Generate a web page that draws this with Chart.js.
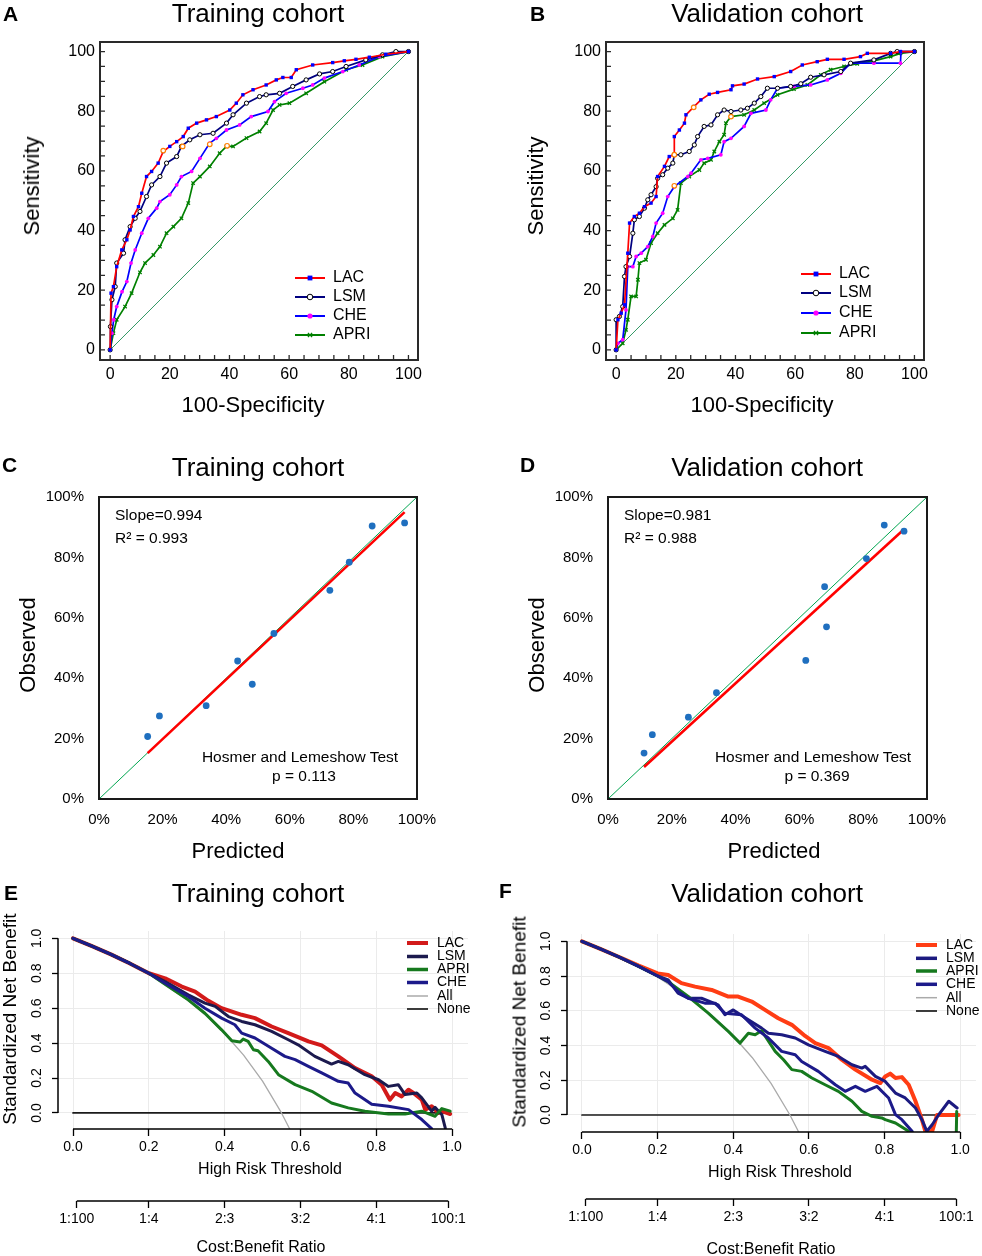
<!DOCTYPE html>
<html><head><meta charset="utf-8">
<script src="https://cdn.jsdelivr.net/npm/chart.js@4.4.1/dist/chart.umd.min.js"></script>
<style>
html,body{margin:0;padding:0;background:#fff;}
body{position:relative;width:982px;height:1256px;overflow:hidden;}
canvas{position:absolute;left:0;top:0;}
</style></head><body>
<script>
// ---------------- DATA ----------------
// ROC, training cohort (panel A)
const A_LAC_X = [0,0.3,1.1,2.2,3.9,5.6,6.7,7.8,9.5,10.6,12.2,13.9,16.1,17.8,20.0,22.3,24.5,26.2,29.0,32.3,35.6,40.1,42.3,44.5,47.9,52.3,55.7,57.9,60.7,62.4,67.9,74.6,78.5,82.4,86.9,92.4,100];
const A_LAC_Y = [0,19,21.2,27.9,33.5,36.9,40.2,44.7,48.0,52.5,58.1,59.8,62.6,66.5,68.2,69.8,71.5,74.3,76.0,77.1,78.2,80.4,82.7,85.5,87.2,88.8,90.5,91.3,91.3,93.9,95.5,96.3,96.9,97.4,98.1,99.1,100];
const A_LSM_X = [0,0.1,0.6,1.7,2.2,4.5,5.0,6.7,8.4,10.0,12.2,13.9,16.7,18.9,22.3,23.9,26.7,30.1,34.5,39.0,41.2,45.7,50.1,52.3,56.8,61.2,65.7,70.2,74.6,79.1,85.7,91.3,95.8,100];
const A_LSM_Y = [0,7.8,16.8,21.2,29.1,32.4,36.9,41.3,44.1,46.4,51.4,55.3,58.1,62.6,64.8,68.2,70.4,72.1,72.6,76.0,78.8,82.7,84.9,85.5,86.0,88.3,90.5,92.5,93.3,95.0,97.2,98.9,100,100];
const A_CHE_X = [0,0.6,1.2,2.2,4.0,5.6,7.0,8.4,10.6,12.8,15.6,16.7,20.0,22.3,23.9,27.3,30.1,33.4,35.6,39.0,43.4,47.3,52.9,55.1,59.0,64.6,67.9,71.8,78.0,83.5,90.2,100];
const A_CHE_Y = [0,5.6,10.1,14.5,19.5,22.9,29.1,33.5,39.1,44.1,47.5,49.7,52.0,55.3,58.1,59.8,64.2,69.3,70.9,73.7,75.4,78.2,79.9,83.2,86.0,87.7,88.8,91.1,93.3,95.5,98.3,100];
const A_APRI_X = [0,1.1,2.2,5.0,7.2,10.0,11.7,14.5,16.7,18.9,21.2,23.9,26.2,27.8,30.1,33.4,36.7,39.0,41.2,45.7,50.1,52.3,54.6,56.8,60.1,65.7,71.8,79.1,84.6,91.3,100];
const A_APRI_Y = [0,5.6,10.1,14.5,19.0,26.0,29.1,31.8,34.6,39.1,41.3,44.1,49.2,55.9,58.1,61.5,65.9,68.2,68.2,71.0,73.2,76.0,80.4,82.1,82.7,86.0,89.9,93.9,95.5,98.3,100];
const A_CUT_X = [17.8,24.3,33.4,39.2];
const A_CUT_Y = [66.8,68.2,68.9,68.4];

// ROC, validation cohort (panel B)
const B_LAC_X = [0,0.6,1.7,2.8,3.9,4.5,6.1,7.8,9.5,11.7,13.4,13.9,16.2,17.8,19.5,19.5,21.2,22.9,23.4,26.2,28.4,31.2,34.0,38.5,39.0,42.9,47.4,53.0,58.5,62.4,67.4,70.8,76.4,81.9,84.2,92.0,95.3,100];
const B_LAC_Y = [0,10.1,12.3,15.1,32.4,42.5,44.7,45.8,48.0,49.2,51.4,58.1,61.5,64.8,65.4,71.5,73.7,76.0,78.8,81.6,83.8,85.7,86.3,87.2,88.5,89.1,90.8,91.6,93.3,95.5,96.6,97.4,97.4,98.3,99.4,99.4,100,100];
const B_LSM_X = [0,0,1.1,2.2,2.8,3.3,4.5,5.6,6.1,7.8,9.5,10.6,11.7,13.4,13.9,15.6,17.3,19.0,19.5,21.7,24.5,26.2,27.3,29.5,31.8,34.0,36.2,38.5,41.8,44.0,46.3,48.5,50.7,54.1,58.5,61.9,65.2,69.7,75.3,78.6,86.4,92.0,94.2,100];
const B_LSM_Y = [0,10.1,11.2,14.5,24.6,27.9,31.3,39.1,43.6,44.7,47.5,50.3,52.0,54.7,57.5,58.7,60.9,62.6,65.4,65.4,66.5,68.7,71.5,74.9,75.4,78.8,80.4,79.9,80.4,81.0,82.7,84.9,87.7,87.7,88.3,89.2,91.4,92.2,93.3,96.1,97.2,99.4,100,100];
const B_CHE_X = [0,0.6,2.2,3.3,3.9,5.6,6.7,8.4,10.6,12.3,13.4,15.6,17.3,19.5,24.0,25.1,28.4,30.7,35.1,36.2,38.5,42.9,45.2,50.2,51.8,54.1,59.6,65.2,70.8,75.3,78.6,86.4,95.3,95.5,100];
const B_CHE_Y = [0,2.2,3.4,13.4,27.9,27.9,31.3,32.4,34.6,38.0,42.5,45.8,51.4,54.7,58.1,59.2,63.7,64.2,65.4,69.8,70.9,74.9,79.3,80.4,83.8,87.7,88.3,88.8,90.5,92.7,96.1,96.1,96.1,100,100];
const B_APRI_X = [0,2.2,3.3,3.9,5.0,6.7,7.3,7.8,10.0,11.7,13.9,16.2,19.0,20.6,21.7,24.5,27.9,29.5,31.8,32.9,34.6,36.2,36.8,38.5,42.9,46.3,49.6,54.1,59.6,64.1,68.6,71.9,76.4,80.8,86.4,92.0,95.3,100];
const B_APRI_Y = [0,2.2,6.7,10.1,17.9,17.9,23.5,29.1,30.2,35.8,39.1,41.9,44.1,46.9,55.9,58.1,60.3,62.6,63.7,66.5,69.8,72.1,76.0,78.2,78.8,80.4,82.7,85.5,87.4,88.8,92.2,93.9,95.0,95.9,96.9,98.3,99.4,100];
const B_CUT_X = [26.0,19.5,19.5,38.5];
const B_CUT_Y = [81.3,65.4,55.0,78.2];

const ROC_DIAG = [0,100];
const ROC_TICKS = [0,20,40,60,80,100];
const ROC_MINOR = [0,5,10,15,20,25,30,35,40,45,50,55,60,65,70,75,80,85,90,95,100];

// Calibration (panels C, D)
const C_PRED = [15.3,19.0,33.7,43.6,48.2,55.0,72.6,78.7,85.9,96.1];
const C_OBS  = [20.7,27.5,30.9,45.7,38.0,54.8,69.1,78.4,90.4,91.4];
const C_FIT_X = [15.3,96.1];
const C_FIT_Y = [15.2,95.0];
const D_PRED = [11.3,13.9,25.2,34.0,62.0,67.9,68.5,81.0,86.6,92.8];
const D_OBS  = [15.2,21.3,27.1,35.2,45.9,70.3,57.0,79.6,90.7,88.7];
const D_FIT_X = [11.3,92.8];
const D_FIT_Y = [10.6,89.3];
const CAL_DIAG = [0,100];
const PCT_TICKS = [0,20,40,60,80,100];

// Decision curves, training cohort (panel E)
const E_LAC_T  = [0,.05,.1,.15,.2,.243,.287,.322,.357,.392,.445,.48,.524,.568,.621,.656,.70,.744,.788,.814,.836,.85,.867,.885,.898,.92,.929,.946,.964,.973,.995];
const E_LAC_NB = [1,.955,.908,.856,.80,.771,.724,.695,.642,.60,.562,.543,.495,.457,.41,.387,.324,.257,.21,.162,.076,.114,.095,.133,.114,.076,.019,.038,0,.01,-.006];
const E_LSM_T  = [0,.05,.1,.15,.2,.243,.304,.348,.375,.41,.445,.48,.524,.568,.594,.638,.682,.70,.726,.77,.806,.832,.858,.876,.907,.92,.946,.955,.973,.982];
const E_LSM_NB = [1,.955,.908,.856,.80,.752,.676,.629,.61,.552,.524,.505,.467,.419,.39,.324,.28,.295,.276,.219,.19,.152,.162,.105,.114,.086,.01,.032,-.01,-.086];
const E_APRI_T  = [0,.05,.1,.15,.2,.243,.304,.348,.392,.419,.441,.449,.462,.476,.488,.515,.542,.586,.63,.682,.726,.77,.832,.876,.92,.955,.973,.995];
const E_APRI_NB = [1,.955,.908,.856,.80,.737,.648,.571,.476,.413,.406,.423,.41,.362,.356,.295,.219,.162,.124,.057,.029,.01,-.006,-.006,.01,-.019,.025,.01];
const E_CHE_T  = [0,.05,.1,.15,.2,.243,.304,.348,.392,.427,.445,.48,.524,.559,.586,.621,.656,.70,.726,.744,.788,.832,.885,.92,.946];
const E_CHE_NB = [1,.955,.908,.856,.80,.743,.667,.60,.543,.505,.457,.429,.371,.324,.305,.267,.229,.181,.171,.114,.05,.038,.019,-.038,-.09];
const E_ALL_T  = [0,.1,.2,.3,.35,.4,.45,.5,.55,.57,.58];
const E_ALL_NB = [1,.909,.795,.649,.56,.455,.331,.182,0,-.085,-.13];
const E_NONE_T  = [0,.995];
const E_NONE_NB = [0,0];

// Decision curves, validation cohort (panel F)
const F_LAC_T  = [0,.05,.1,.15,.2,.228,.263,.299,.343,.387,.413,.449,.484,.519,.555,.59,.617,.652,.687,.723,.767,.789,.802,.815,.829,.846,.864,.882,.899,.908,.926,.939,.996];
const F_LAC_NB = [1,.955,.908,.86,.815,.806,.759,.739,.72,.682,.682,.653,.605,.557,.519,.455,.414,.385,.318,.261,.203,.184,.222,.238,.213,.218,.174,.079,-.027,-.094,-.094,0,0];
const F_LSM_T  = [0,.05,.1,.15,.2,.228,.254,.281,.316,.36,.378,.40,.44,.475,.493,.528,.564,.599,.643,.678,.714,.74,.749,.776,.802,.829,.855,.882,.899,.912,.926,.943,.97,.992];
const F_LSM_NB = [1,.955,.908,.856,.80,.778,.701,.672,.672,.634,.577,.605,.548,.50,.471,.462,.443,.404,.366,.337,.289,.27,.28,.222,.193,.126,.098,.04,-.027,-.094,-.056,0,.079,.04];
const F_APRI_T  = [0,.05,.1,.15,.2,.228,.281,.334,.387,.418,.44,.458,.475,.511,.533,.555,.581,.608,.643,.678,.714,.74,.767,.793,.802,.829,.864,.989,.991];
const F_APRI_NB = [1,.955,.908,.856,.80,.768,.682,.586,.481,.414,.471,.462,.485,.366,.318,.261,.251,.213,.174,.136,.079,.021,-.008,-.017,-.027,-.046,-.094,-.2,.02];
const F_CHE_T  = [0,.05,.1,.15,.2,.228,.254,.281,.325,.352,.378,.422,.458,.493,.528,.564,.581,.625,.67,.696,.723,.749,.78,.811,.829,.846,.873];
const F_CHE_NB = [1,.955,.908,.856,.80,.768,.711,.672,.644,.644,.586,.577,.50,.443,.366,.347,.308,.251,.174,.136,.165,.136,.165,.098,.002,-.027,-.094];
const F_ALL_T  = [0,.1,.2,.3,.35,.4,.45,.5,.55,.57,.58];
const F_ALL_NB = [1,.909,.795,.649,.56,.455,.331,.182,0,-.085,-.13];
const F_NONE_T  = [0,.995];
const F_NONE_NB = [0,0];

const DC_TICKS = [0,0.2,0.4,0.6,0.8,1.0];
const COST_T = [0.01,0.2,0.4,0.6,0.8,0.99];
const COST_LABELS = ['1:100','1:4','2:3','3:2','4:1','100:1'];

// ---------------- RENDERING ----------------
const FONT = "'Liberation Sans', Arial, Helvetica, sans-serif";
Chart.defaults.font.family = FONT;
Chart.defaults.color = '#000';
const W = 982, H = 1256;

function pts(xs, ys) { return xs.map((x, i) => ({x: x, y: ys[i]})); }
function newCtx() {
  const c = document.createElement('canvas');
  c.width = W; c.height = H; c.style.width = W + 'px'; c.style.height = H + 'px';
  document.body.appendChild(c);
  return c.getContext('2d');
}
function pad(L, T, R, B, yW, xH) {
  return {left: L - yW, top: T, right: W - R, bottom: H - B - xH};
}
function drawMarker(ctx, m, x, y) {
  ctx.save();
  ctx.fillStyle = m.bg; ctx.strokeStyle = m.border; ctx.lineWidth = m.bw;
  ctx.beginPath();
  if (m.style === 'rect') {
    const s = m.r * Math.SQRT1_2;
    ctx.rect(x - s, y - s, 2 * s, 2 * s); ctx.fill(); if (m.bw) ctx.stroke();
  } else if (m.style === 'crossRot') {
    const s = m.r * Math.SQRT1_2;
    ctx.moveTo(x - s, y - s); ctx.lineTo(x + s, y + s);
    ctx.moveTo(x + s, y - s); ctx.lineTo(x - s, y + s); ctx.stroke();
  } else {
    ctx.arc(x, y, m.r, 0, Math.PI * 2); ctx.fill(); if (m.bw) ctx.stroke();
  }
  ctx.restore();
}

const framePlugin = {
  id: 'frame',
  afterDatasetsDraw(chart, args, o) {
    const ctx = chart.ctx, a = chart.chartArea, sx = chart.scales.x, sy = chart.scales.y;
    ctx.save();
    ctx.strokeStyle = o.color; ctx.lineWidth = o.width;
    ctx.strokeRect(a.left, a.top, a.right - a.left, a.bottom - a.top);
    if (o.ticks) {
      ctx.lineWidth = o.tickWidth;
      ctx.beginPath();
      o.ticks.forEach(v => {
        const px = sx.getPixelForValue(v);
        ctx.moveTo(px, a.bottom); ctx.lineTo(px, a.bottom - o.tickLen);
        const py = sy.getPixelForValue(v);
        ctx.moveTo(a.left, py); ctx.lineTo(a.left + o.tickLen, py);
      });
      ctx.stroke();
    }
    ctx.restore();
  }
};

const rAxesPlugin = {
  id: 'raxes',
  afterDraw(chart, args, o) {
    const ctx = chart.ctx, a = chart.chartArea, x = chart.scales.x, x2 = chart.scales.x2, y = chart.scales.y;
    ctx.save();
    ctx.strokeStyle = '#000'; ctx.lineWidth = o.width;
    ctx.beginPath();
    ctx.moveTo(a.left, y.getPixelForValue(DC_TICKS[0])); ctx.lineTo(a.left, y.getPixelForValue(DC_TICKS[DC_TICKS.length - 1]));
    ctx.moveTo(x.getPixelForValue(DC_TICKS[0]), a.bottom); ctx.lineTo(x.getPixelForValue(DC_TICKS[DC_TICKS.length - 1]), a.bottom);
    ctx.moveTo(x2.getPixelForValue(COST_T[0]), x2.top); ctx.lineTo(x2.getPixelForValue(COST_T[COST_T.length - 1]), x2.top);
    ctx.stroke();
    ctx.restore();
  }
};

const keysPlugin = {
  id: 'keys',
  afterDraw(chart, args, o) {
    const ctx = chart.ctx;
    ctx.save();
    ctx.font = o.size + 'px ' + FONT;
    ctx.textBaseline = 'middle'; ctx.textAlign = 'left';
    o.items.forEach((it, i) => {
      const y = o.ys[i];
      ctx.strokeStyle = it.color; ctx.lineWidth = it.width; ctx.lineCap = 'butt';
      ctx.beginPath(); ctx.moveTo(o.x0, y); ctx.lineTo(o.x1, y); ctx.stroke();
      if (it.marker) drawMarker(ctx, it.marker, (o.x0 + o.x1) / 2, y);
      ctx.fillStyle = '#000';
      ctx.fillText(it.label, o.tx, y + (o.dy || 0));
    });
    ctx.restore();
  }
};

// ----- ROC panels -----
const MK = {
  LAC:  {style: 'rect', r: 2.4, bg: '#0000ff', border: '#0000ff', bw: 0},
  LSM:  {style: 'circle', r: 2.1, bg: '#ffffff', border: '#000000', bw: 1},
  CHE:  {style: 'circle', r: 1.9, bg: '#ff00ff', border: '#ff00ff', bw: 0},
  APRI: {style: 'crossRot', r: 2.4, bg: '#008000', border: '#008000', bw: 1.3},
  CUT:  {style: 'circle', r: 2.3, bg: '#ffffff', border: '#ff7f00', bw: 1.2}
};
const LINE = {LAC: '#ff0000', LSM: '#000080', CHE: '#0000ff', APRI: '#008000'};
const LMK = {
  LAC:  Object.assign({}, MK.LAC, {r: 3.4}),
  LSM:  Object.assign({}, MK.LSM, {r: 2.8}),
  CHE:  Object.assign({}, MK.CHE, {r: 2.6}),
  APRI: Object.assign({}, MK.APRI, {r: 3.0})
};

function rocSet(label, xs, ys, line, mk) {
  return {
    label: label, data: pts(xs, ys), showLine: !!line,
    borderColor: line || mk.border, borderWidth: line ? 1.7 : 0,
    backgroundColor: mk.bg,
    pointStyle: mk.style, pointRadius: mk.r,
    pointBackgroundColor: mk.bg, pointBorderColor: mk.border, pointBorderWidth: mk.bw,
    tension: 0
  };
}
function rocScale(yAxis) {
  return {
    type: 'linear', min: -3.4, max: 103.2,
    afterBuildTicks: s => { s.ticks = ROC_TICKS.map(v => ({value: v})); },
    ticks: {autoSkip: false, maxRotation: 0, font: {size: 16}, color: '#000', padding: 5, callback: v => String(v)},
    grid: {display: false, drawTicks: false},
    border: {display: false},
    afterFit: s => { if (yAxis) s.width = 60; else s.height = 40; }
  };
}
function rocChart(L, T, R, B, d, legendPos) {
  const keyItems = ['LAC', 'LSM', 'CHE', 'APRI'].map(k => ({label: k, color: LINE[k], width: 2, marker: LMK[k]}));
  new Chart(newCtx(), {
    type: 'scatter',
    data: {datasets: [
      rocSet('cut', d.cutX, d.cutY, null, MK.CUT),
      rocSet('LAC', d.lacX, d.lacY, LINE.LAC, MK.LAC),
      rocSet('LSM', d.lsmX, d.lsmY, LINE.LSM, MK.LSM),
      rocSet('CHE', d.cheX, d.cheY, LINE.CHE, MK.CHE),
      rocSet('APRI', d.apriX, d.apriY, LINE.APRI, MK.APRI),
      {label: 'ref', data: pts(ROC_DIAG, ROC_DIAG), showLine: true, borderColor: '#339966', borderWidth: 1, pointRadius: 0}
    ]},
    options: {
      responsive: false, animation: false, events: [],
      layout: {padding: pad(L, T, R, B, 60, 40)},
      scales: {x: rocScale(false), y: rocScale(true)},
      plugins: {
        legend: {display: false}, tooltip: {enabled: false},
        frame: {color: '#2a2a2a', width: 2, ticks: ROC_MINOR, tickLen: 5, tickWidth: 1.3},
        keys: Object.assign({size: 16, items: keyItems}, legendPos)
      }
    },
    plugins: [framePlugin, keysPlugin]
  });
}
rocChart(100, 42, 418, 360, {
  lacX: A_LAC_X, lacY: A_LAC_Y, lsmX: A_LSM_X, lsmY: A_LSM_Y, cheX: A_CHE_X, cheY: A_CHE_Y,
  apriX: A_APRI_X, apriY: A_APRI_Y, cutX: A_CUT_X, cutY: A_CUT_Y
}, {x0: 295, x1: 325, tx: 333, ys: [278, 297, 316, 335]});
rocChart(606, 42, 924, 360, {
  lacX: B_LAC_X, lacY: B_LAC_Y, lsmX: B_LSM_X, lsmY: B_LSM_Y, cheX: B_CHE_X, cheY: B_CHE_Y,
  apriX: B_APRI_X, apriY: B_APRI_Y, cutX: B_CUT_X, cutY: B_CUT_Y
}, {x0: 801, x1: 831, tx: 839, ys: [274, 293, 313, 333]});

// ----- Calibration panels -----
function calScale(yAxis) {
  return {
    type: 'linear', min: 0, max: 100,
    afterBuildTicks: s => { s.ticks = PCT_TICKS.map(v => ({value: v})); },
    ticks: {autoSkip: false, maxRotation: 0, font: {size: 15}, color: '#000', padding: yAxis ? 15 : 12, callback: v => v + '%'},
    grid: {display: false, drawTicks: false},
    border: {display: false},
    afterFit: s => { if (yAxis) s.width = 70; else s.height = 40; }
  };
}
function calChart(L, T, R, B, px, py, fx, fy) {
  new Chart(newCtx(), {
    type: 'scatter',
    data: {datasets: [
      {label: 'obs', data: pts(px, py), pointRadius: 3.4, pointBackgroundColor: '#1f6fbf', pointBorderColor: '#1f6fbf', pointBorderWidth: 0, showLine: false},
      {label: 'fit', data: pts(fx, fy), showLine: true, borderColor: '#ff0000', borderWidth: 2.6, pointRadius: 0},
      {label: 'ideal', data: pts(CAL_DIAG, CAL_DIAG), showLine: true, borderColor: '#00a650', borderWidth: 1, pointRadius: 0}
    ]},
    options: {
      responsive: false, animation: false, events: [],
      layout: {padding: pad(L, T, R, B, 70, 40)},
      scales: {x: calScale(false), y: calScale(true)},
      plugins: {legend: {display: false}, tooltip: {enabled: false}, frame: {color: '#1a1a1a', width: 2}},
    },
    plugins: [framePlugin]
  });
}
calChart(99, 497, 417, 799, C_PRED, C_OBS, C_FIT_X, C_FIT_Y);
calChart(608, 497, 927, 799, D_PRED, D_OBS, D_FIT_X, D_FIT_Y);

// ----- Decision curve panels -----
function dcSet(label, ts, nb, color, width) {
  return {label: label, data: pts(ts, nb), showLine: true, borderColor: color, borderWidth: width,
    pointRadius: 0, tension: 0, borderJoinStyle: 'round', borderCapStyle: 'round', clip: 0};
}
function dcChart(L, T, R, B, xH, yMin, d, col, legendPos) {
  const xDef = {
    type: 'linear', min: -0.0396, max: 1.042, weight: 0,
    afterBuildTicks: s => { s.ticks = DC_TICKS.map(v => ({value: v})); },
    ticks: {autoSkip: false, maxRotation: 0, font: {size: 14}, color: '#000', padding: 3, callback: v => v.toFixed(1)},
    grid: {color: '#ebebeb', lineWidth: 1, tickColor: '#000', tickWidth: 1.3, tickLength: 7},
    border: {display: false},
    afterFit: s => { s.height = xH; }
  };
  const x2Def = {
    type: 'linear', position: 'bottom', min: -0.0396, max: 1.042, weight: 1,
    afterBuildTicks: s => { s.ticks = COST_T.map(v => ({value: v})); },
    ticks: {autoSkip: false, maxRotation: 0, font: {size: 14}, color: '#000', padding: 3, callback: (v, i) => COST_LABELS[i]},
    grid: {drawOnChartArea: false, tickColor: '#000', tickWidth: 1.3, tickLength: 7},
    border: {display: false},
    afterFit: s => { s.height = 40; }
  };
  const yDef = {
    type: 'linear', min: yMin, max: 1.042,
    afterBuildTicks: s => { s.ticks = DC_TICKS.map(v => ({value: v})); },
    ticks: {autoSkip: false, minRotation: 90, maxRotation: 90, crossAlign: 'center', font: {size: 14}, color: '#000', padding: 5.5, callback: v => v.toFixed(1)},
    grid: {color: '#ebebeb', lineWidth: 1, tickColor: '#000', tickWidth: 1.3, tickLength: 6},
    border: {display: false},
    afterFit: s => { s.width = 58; }
  };
  const items = [
    {label: 'LAC', color: col.LAC, width: 4},
    {label: 'LSM', color: col.LSM, width: 3.5},
    {label: 'APRI', color: col.APRI, width: 3.5},
    {label: 'CHE', color: col.CHE, width: 3.5},
    {label: 'All', color: col.All, width: 1.5},
    {label: 'None', color: col.None, width: 1.7}
  ];
  new Chart(newCtx(), {
    type: 'scatter',
    data: {datasets: [
      dcSet('CHE', d.cheT, d.cheNB, col.CHE, 3),
      dcSet('APRI', d.apriT, d.apriNB, col.APRI, 3),
      dcSet('LSM', d.lsmT, d.lsmNB, col.LSM, 3),
      dcSet('LAC', d.lacT, d.lacNB, col.LAC, 4),
      dcSet('All', d.allT, d.allNB, col.All, 1.3),
      dcSet('None', d.noneT, d.noneNB, col.None, 1.7)
    ]},
    options: {
      responsive: false, animation: false, events: [],
      layout: {padding: pad(L, T, R, B, 58, xH + 40)},
      scales: {x: xDef, x2: x2Def, y: yDef},
      plugins: {
        legend: {display: false}, tooltip: {enabled: false},
        raxes: {width: 1.5},
        keys: Object.assign({size: 14, items: items}, legendPos)
      }
    },
    plugins: [rAxesPlugin, keysPlugin]
  });
}
dcChart(58, 931, 468, 1129, 72, -0.092, {
  lacT: E_LAC_T, lacNB: E_LAC_NB, lsmT: E_LSM_T, lsmNB: E_LSM_NB, apriT: E_APRI_T, apriNB: E_APRI_NB,
  cheT: E_CHE_T, cheNB: E_CHE_NB, allT: E_ALL_T, allNB: E_ALL_NB, noneT: E_NONE_T, noneNB: E_NONE_NB
}, {LAC: '#d21a1a', LSM: '#1c1a4e', APRI: '#16791e', CHE: '#1c1a8a', All: '#aaaaaa', None: '#1a1a1a'},
{x0: 407, x1: 428, tx: 437, ys: [943, 956.5, 969.5, 982.5, 996, 1009]});
dcChart(567, 934, 976, 1132, 67, -0.098, {
  lacT: F_LAC_T, lacNB: F_LAC_NB, lsmT: F_LSM_T, lsmNB: F_LSM_NB, apriT: F_APRI_T, apriNB: F_APRI_NB,
  cheT: F_CHE_T, cheNB: F_CHE_NB, allT: F_ALL_T, allNB: F_ALL_NB, noneT: F_NONE_T, noneNB: F_NONE_NB
}, {LAC: '#ff3d14', LSM: '#1c1a80', APRI: '#16791e', CHE: '#1c1a8a', All: '#aaaaaa', None: '#1a1a1a'},
{x0: 916, x1: 937, tx: 946, ys: [945, 958.3, 971, 984.3, 997.7, 1011]});

// ----- Text (titles, axis titles, annotations) -----
function txt(t, x, y, size, o) {
  o = o || {};
  const d = document.createElement('div');
  d.textContent = t;
  d.style.cssText = 'position:absolute;left:' + x + 'px;top:' + y + 'px;font:' + (o.bold ? 'bold ' : '') + size + 'px ' + FONT +
    ';line-height:1;white-space:nowrap;color:#000;transform:' + (o.left ? 'translate(0,-50%)' : 'translate(-50%,-50%)') + (o.rot ? ' rotate(-90deg)' : '') + ';';
  document.body.appendChild(d);
}
// A
txt('A', 3, 13, 21, {bold: 1, left: 1});
txt('Training cohort', 258, 13, 26);
txt('Sensitivity', 32, 186, 22, {rot: 1});
txt('100-Specificity', 253, 405, 22);
// B
txt('B', 530, 13, 21, {bold: 1, left: 1});
txt('Validation cohort', 767, 13, 26);
txt('Sensitivity', 536, 186, 22, {rot: 1});
txt('100-Specificity', 762, 405, 22);
// C
txt('C', 2, 464, 21, {bold: 1, left: 1});
txt('Training cohort', 258, 467, 26);
txt('Observed', 28, 645, 22, {rot: 1});
txt('Predicted', 238, 851, 22);
txt('Slope=0.994', 115, 515, 15.5, {left: 1});
txt('R\u00b2 = 0.993', 115, 538, 15.5, {left: 1});
txt('Hosmer and Lemeshow Test', 300, 757, 15.5);
txt('p = 0.113', 304, 776, 15.5);
// D
txt('D', 520, 464, 21, {bold: 1, left: 1});
txt('Validation cohort', 767, 467, 26);
txt('Observed', 537, 645, 22, {rot: 1});
txt('Predicted', 774, 851, 22);
txt('Slope=0.981', 624, 515, 15.5, {left: 1});
txt('R\u00b2 = 0.988', 624, 538, 15.5, {left: 1});
txt('Hosmer and Lemeshow Test', 813, 757, 15.5);
txt('p = 0.369', 817, 776, 15.5);
// E
txt('E', 4, 892, 21, {bold: 1, left: 1});
txt('Training cohort', 258, 893, 26);
txt('Standardized Net Benefit', 9, 1019, 19, {rot: 1});
txt('High Risk Threshold', 270, 1169, 16);
txt('Cost:Benefit Ratio', 261, 1247, 16);
// F
txt('F', 499, 890, 21, {bold: 1, left: 1});
txt('Validation cohort', 767, 893, 26);
txt('Standardized Net Benefit', 519, 1022, 19, {rot: 1});
txt('High Risk Threshold', 780, 1172, 16);
txt('Cost:Benefit Ratio', 771, 1249, 16);
</script>
</body></html>
